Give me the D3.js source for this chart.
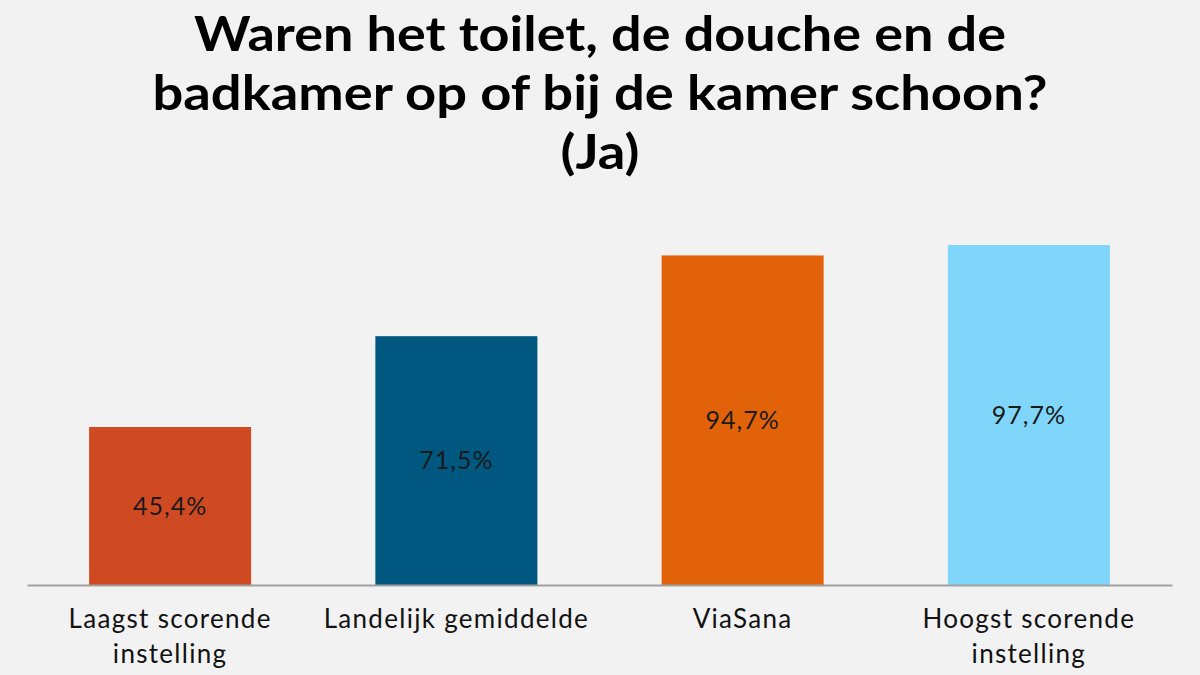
<!DOCTYPE html>
<html>
<head>
<meta charset="utf-8">
<script src="https://cdn.jsdelivr.net/npm/d3@7"></script>
<style>
  html, body { margin: 0; padding: 0; background: #f2f2f2; }
  svg { display: block; }
</style>
</head>
<body>
<svg id="chart"></svg>
<script>
// data
const categories = [["Laagst scorende", "instelling"], ["Landelijk gemiddelde"], ["ViaSana"], ["Hoogst scorende", "instelling"]]
const values = [45.4, 71.5, 94.7, 97.7]
const barColors = ["#cf4a22", "#005780", "#e2620a", "#80d6fa"]
const titleLines = ["Waren het toilet, de douche en de", "badkamer op of bij de kamer schoon?", "(Ja)"]
const titleWidths = [812, 895, 79]

const w = 1200
const h = 675
const svg = d3.select("#chart")
  .attr("width", w)
  .attr("height", h)
  .style("background-color", "#f2f2f2")

// scales
const x = d3.scaleBand()
  .domain(d3.range(values.length))
  .range([27, 1172])
  .paddingInner(0.434)
  .paddingOuter(0.217)

const y = d3.scaleLinear()
  .domain([0, 100])
  .range([585, 237])

// title
svg.append("g").selectAll("text")
  .data(titleLines)
  .enter()
  .append("text")
    .attr("x", 600)
    .attr("y", (d, i) => 51 + i * 59)
    .attr("text-anchor", "middle")
    .attr("textLength", (d, i) => titleWidths[i])
    .attr("lengthAdjust", "spacingAndGlyphs")
    .style("font-family", "Lato, sans-serif")
    .style("font-weight", "bold")
    .style("font-size", "47px")
    .attr("fill", "#000")
    .text(d => d)

// bars
svg.append("g").selectAll("rect")
  .data(values)
  .enter()
  .append("rect")
    .attr("x", (d, i) => x(i))
    .attr("y", d => y(d))
    .attr("width", x.bandwidth())
    .attr("height", d => y(0) - y(d))
    .attr("fill", (d, i) => barColors[i])

// value labels (centred in bar)
svg.append("g").selectAll("text")
  .data(values)
  .enter()
  .append("text")
    .attr("x", (d, i) => x(i) + x.bandwidth() / 2)
    .attr("y", d => (y(d) + y(0)) / 2)
    .attr("dy", "0.35em")
    .attr("text-anchor", "middle")
    .style("font-family", "Lato, sans-serif")
    .style("font-size", "25px")
    .style("letter-spacing", "1px")
    .attr("fill", "#1a1a1a")
    .text(d => d3.format(".1f")(d).replace(".", ",") + "%")

// x axis (line only, labels below)
const xAxis = d3.axisBottom(x).tickSize(0).tickSizeOuter(0).tickFormat("")
const axisG = svg.append("g")
  .attr("transform", `translate(0, ${y(0)})`)
  .call(xAxis)
axisG.select(".domain").attr("stroke", "#a0a0a0").attr("stroke-width", 2)

const labels = svg.append("g").selectAll("text")
  .data(categories)
  .enter()
  .append("text")
    .attr("x", (d, i) => x(i) + x.bandwidth() / 2)
    .attr("y", 628)
    .attr("text-anchor", "middle")
    .style("font-family", "Lato, sans-serif")
    .style("font-size", "26px")
    .style("letter-spacing", "1.3px")
    .attr("fill", "#111")

labels.selectAll("tspan")
  .data(d => d)
  .enter()
  .append("tspan")
    .attr("x", function () { return this.parentNode.getAttribute("x") })
    .attr("dy", (d, i) => i === 0 ? 0 : 35)
    .text(d => d)
</script>
</body>
</html>
